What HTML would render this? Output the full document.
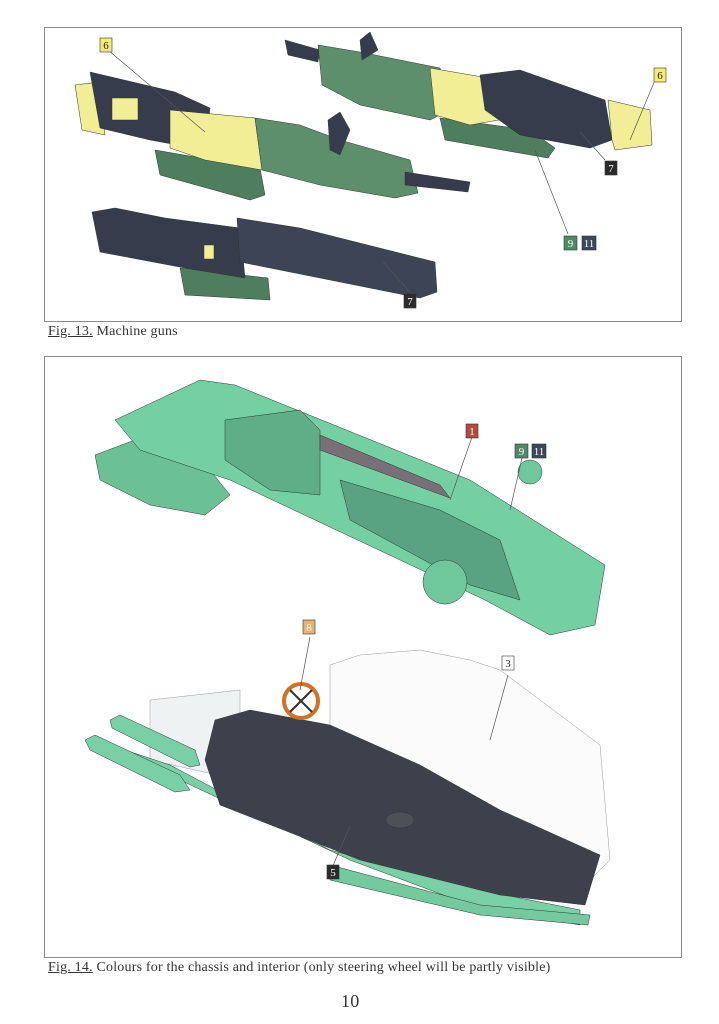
<!DOCTYPE html>
<html><head><meta charset="utf-8"><style>
html,body{margin:0;padding:0;background:#fff;}
body{width:719px;height:1024px;position:relative;overflow:hidden;font-family:"Liberation Serif",serif;}
.f{position:absolute;border:1px solid #8a8a8a;}
.cap{position:absolute;font-size:14px;color:#333;letter-spacing:0.2px;}
.cap u{text-decoration:underline;}
svg{position:absolute;left:0;top:0;}
</style></head><body>
<div class="f" style="left:44px;top:27px;width:636px;height:293px"></div>
<div class="f" style="left:44px;top:356px;width:636px;height:600px"></div>
<div class="cap" style="left:48px;top:324px"><u>Fig. 13.</u> Machine guns</div>
<div class="cap" style="left:48px;top:960px"><u>Fig. 14.</u> Colours for the chassis and interior (only steering wheel will be partly visible)</div>
<div class="cap" style="left:341px;top:991px;font-size:18px">10</div>
<svg width="719" height="1024" viewBox="0 0 719 1024">
<g stroke="#2a3a30" stroke-width="0.5">
<!-- gun 1 -->
<polygon points="155,150 260,168 265,195 250,200 160,175" fill="#4f7e5f"/>
<polygon points="75,85 100,82 105,135 82,130" fill="#f2ee95"/>
<polygon points="90,72 175,92 210,108 205,150 150,140 100,128" fill="#363c4c"/>
<polygon points="170,110 255,118 262,170 205,160 170,148" fill="#f2ee95"/>
<polygon points="255,118 300,125 340,140 410,160 418,193 395,198 320,185 262,170" fill="#5e8f6c"/>
<polygon points="405,172 470,182 468,192 405,185" fill="#363c4c"/>
<rect x="112" y="98" width="26" height="22" fill="#f2ee95"/>
<polygon points="328,120 340,112 350,130 340,155 330,150" fill="#363c4c"/>
<!-- gun 2 -->
<polygon points="440,118 530,130 555,148 548,158 445,140" fill="#4f7e5f"/>
<polygon points="285,40 320,50 318,62 288,55" fill="#363c4c"/>
<polygon points="318,45 360,52 440,68 450,110 430,120 360,105 322,85" fill="#5e8f6c"/>
<polygon points="430,68 500,80 510,118 470,125 435,115" fill="#f2ee95"/>
<polygon points="480,75 520,70 605,100 612,140 590,148 520,135 485,110" fill="#363c4c"/>
<polygon points="608,100 650,110 652,145 615,150 612,140" fill="#f2ee95"/>
<polygon points="360,40 370,32 378,50 362,60" fill="#363c4c"/>
<!-- gun 3 -->
<polygon points="180,268 268,278 270,300 185,295" fill="#4f7e5f"/>
<polygon points="92,212 115,208 165,218 240,228 245,278 185,268 100,252" fill="#363c4c"/>
<polygon points="237,218 300,228 435,262 437,292 420,298 240,262" fill="#3d4456"/>
<rect x="204" y="245" width="10" height="14" fill="#f2ee95"/>
<!-- chassis -->
<polygon points="95,455 140,438 210,470 230,495 205,515 150,505 100,480" fill="#6cc096"/>
<polygon points="115,420 200,380 235,385 470,480 605,565 595,625 550,635 485,600 230,480 140,450" fill="#74cfa3"/>
<polygon points="225,420 300,410 320,430 320,495 270,490 225,460" fill="#5fae88"/>
<polygon points="340,480 440,510 500,540 520,600 470,585 350,520" fill="#5aa382"/>
<circle cx="445" cy="582" r="22" fill="#6fc79c"/>
<circle cx="530" cy="472" r="12" fill="#6fc79c"/>
<polygon points="320,435 440,485 450,498 320,450" fill="#7a6f76"/>
<!-- interior -->
<polygon points="150,700 240,690 240,780 150,760" fill="#eef2f2" stroke="#999"/>
<polygon points="330,665 360,655 420,650 470,660 500,670 600,745 610,860 580,890 330,760" fill="#fbfbfb" stroke="#999"/>
<polygon points="90,745 180,780 350,860 470,905 580,925 580,910 480,890 330,850 170,765 95,740" fill="#79d0a6"/>
<polygon points="85,740 95,735 180,775 190,790 175,792 90,750" fill="#79d0a6"/>
<polygon points="110,720 120,715 195,750 200,765 190,767 112,728" fill="#79d0a6"/>
<polygon points="215,720 250,710 330,725 420,765 500,810 600,855 585,905 500,895 360,860 220,805 205,760" fill="#3e414b"/>
<polygon points="330,865 480,905 590,915 588,925 480,915 330,880" fill="#74c99f"/>
<circle cx="301" cy="701" r="17" fill="none" stroke="#d4701e" stroke-width="4"/>
<line x1="290" y1="690" x2="312" y2="712" stroke="#333" stroke-width="2"/>
<line x1="312" y1="690" x2="290" y2="712" stroke="#333" stroke-width="2"/>
<ellipse cx="400" cy="820" rx="14" ry="8" fill="#4d5058"/>
</g>
<g stroke="#555" stroke-width="0.7">
<line x1="108" y1="50" x2="205" y2="132"/>
<line x1="655" y1="80" x2="630" y2="140"/>
<line x1="605" y1="160" x2="580" y2="132"/>
<line x1="568" y1="234" x2="535" y2="150"/>
<line x1="410" y1="292" x2="383" y2="262"/>
<line x1="472" y1="437" x2="450" y2="500"/>
<line x1="522" y1="458" x2="510" y2="510"/>
<line x1="310" y1="637" x2="300" y2="690"/>
<line x1="508" y1="675" x2="490" y2="740"/>
<line x1="332" y1="868" x2="350" y2="826"/>
</g>
<g font-family="Liberation Serif, serif" font-size="11" text-anchor="middle" stroke="#333" stroke-width="0.6">
<rect x="100" y="38" width="12" height="14" fill="#f4ee70"/><text x="106" y="49" stroke="none" fill="#222">6</text>
<rect x="654" y="68" width="12" height="14" fill="#f4ee70"/><text x="660" y="79" stroke="none" fill="#222">6</text>
<rect x="605" y="161" width="12" height="14" fill="#2b2b2b"/><text x="611" y="172" stroke="none" fill="#fff">7</text>
<rect x="564" y="236" width="13" height="14" fill="#4e8a6a"/><text x="570.5" y="247" stroke="none" fill="#fff">9</text>
<rect x="582" y="236" width="14" height="14" fill="#3a4858"/><text x="589" y="247" stroke="none" fill="#fff">11</text>
<rect x="404" y="294" width="12" height="14" fill="#2b2b2b"/><text x="410" y="305" stroke="none" fill="#fff">7</text>
<rect x="466" y="424" width="12" height="14" fill="#b54b3a"/><text x="472" y="435" stroke="none" fill="#fff">1</text>
<rect x="515" y="444" width="13" height="14" fill="#4e8a6a"/><text x="521.5" y="455" stroke="none" fill="#fff">9</text>
<rect x="532" y="444" width="14" height="14" fill="#3a4858"/><text x="539" y="455" stroke="none" fill="#fff">11</text>
<rect x="303" y="620" width="12" height="14" fill="#eab070"/><text x="309" y="631" stroke="none" fill="#fff">8</text>
<rect x="502" y="656" width="12" height="14" fill="#fff"/><text x="508" y="667" stroke="none" fill="#222">3</text>
<rect x="327" y="865" width="12" height="14" fill="#2b2b2b"/><text x="333" y="876" stroke="none" fill="#fff">5</text>
</g>
</svg>
</body></html>
